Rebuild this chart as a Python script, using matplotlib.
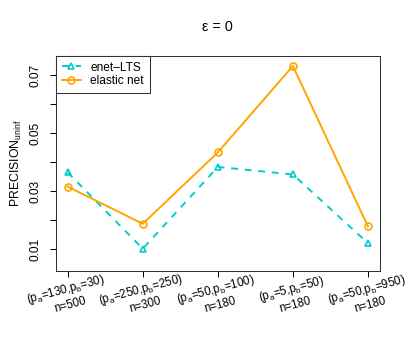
import matplotlib
matplotlib.use("Agg")
import matplotlib.pyplot as plt

plt.rcParams['font.family'] = ['Liberation Sans', 'DejaVu Sans']
plt.rcParams['mathtext.fontset'] = 'custom'
plt.rcParams['mathtext.rm'] = 'Liberation Sans'
plt.rcParams['mathtext.it'] = 'Liberation Sans:italic'

# values
settings = ['(p$_\\mathrm{a}$=130,p$_\\mathrm{b}$=30)\nn=500',
            '(p$_\\mathrm{a}$=250,p$_\\mathrm{b}$=250)\nn=300',
            '(p$_\\mathrm{a}$=50,p$_\\mathrm{b}$=100)\nn=180',
            '(p$_\\mathrm{a}$=5,p$_\\mathrm{b}$=50)\nn=180',
            '(p$_\\mathrm{a}$=50,p$_\\mathrm{b}$=950)\nn=180']
enet_lts = [0.0364, 0.0101, 0.0383, 0.0357, 0.0120]
elastic_net = [0.0315, 0.0187, 0.0433, 0.0731, 0.0178]
yticks = [0.01, 0.02, 0.03, 0.04, 0.05, 0.06, 0.07]
ytick_labels = ['0.01', '', '0.03', '', '0.05', '', '0.07']

x = list(range(1, len(settings) + 1))

fig = plt.figure(figsize=(4.09, 3.41), dpi=100)
ax = fig.add_axes([0.1362, 0.2062, 0.929 - 0.1362, 0.8367 - 0.2062])

ax.plot(x, enet_lts, color='#00CDCD', lw=1.4, ls=(0, (3.5, 3.5)), marker='^',
        ms=5, mfc='none', mec='#00CDCD', mew=1.2, label='enet\u2013LTS')
ax.plot(x, elastic_net, color='#FFA500', lw=1.4, marker='o',
        ms=5, mfc='none', mec='#FFA500', mew=1.2, label='elastic net')

ax.set_xlim(0.84, 5.16)
ax.set_ylim(0.00252, 0.07666)

ax.set_yticks(yticks)
ax.set_yticklabels(ytick_labels, rotation=90, va='center', fontsize=8.6)
ax.set_xticks(x)
ax.set_xticklabels(settings, rotation=15, ha='center', va='center',
                   rotation_mode='anchor', multialignment='center', fontsize=8.3,
                   linespacing=1.15)
ax.tick_params(axis='x', length=4.3, width=0.75, pad=14)
ax.tick_params(axis='y', length=4.3, width=0.75, pad=6)
for s in ax.spines.values():
    s.set_linewidth(0.75)
    s.set_color('#333333')

ax.set_ylabel('PRECISION$_\\mathrm{uninf}$', fontsize=8.8, labelpad=4)

leg = ax.legend(loc='upper left', borderaxespad=0, fancybox=False,
                edgecolor='#333333', framealpha=1, fontsize=8.6,
                handlelength=1.6, handletextpad=0.8, labelspacing=0.15,
                borderpad=0.5)
leg.get_frame().set_linewidth(0.75)

fig.text((55.7 + 380) / 2 / 409, 1 - 27 / 341, '\u03b5 = 0', ha='center',
         va='center', fontsize=10.4)

fig.savefig('out.png', dpi=100)
